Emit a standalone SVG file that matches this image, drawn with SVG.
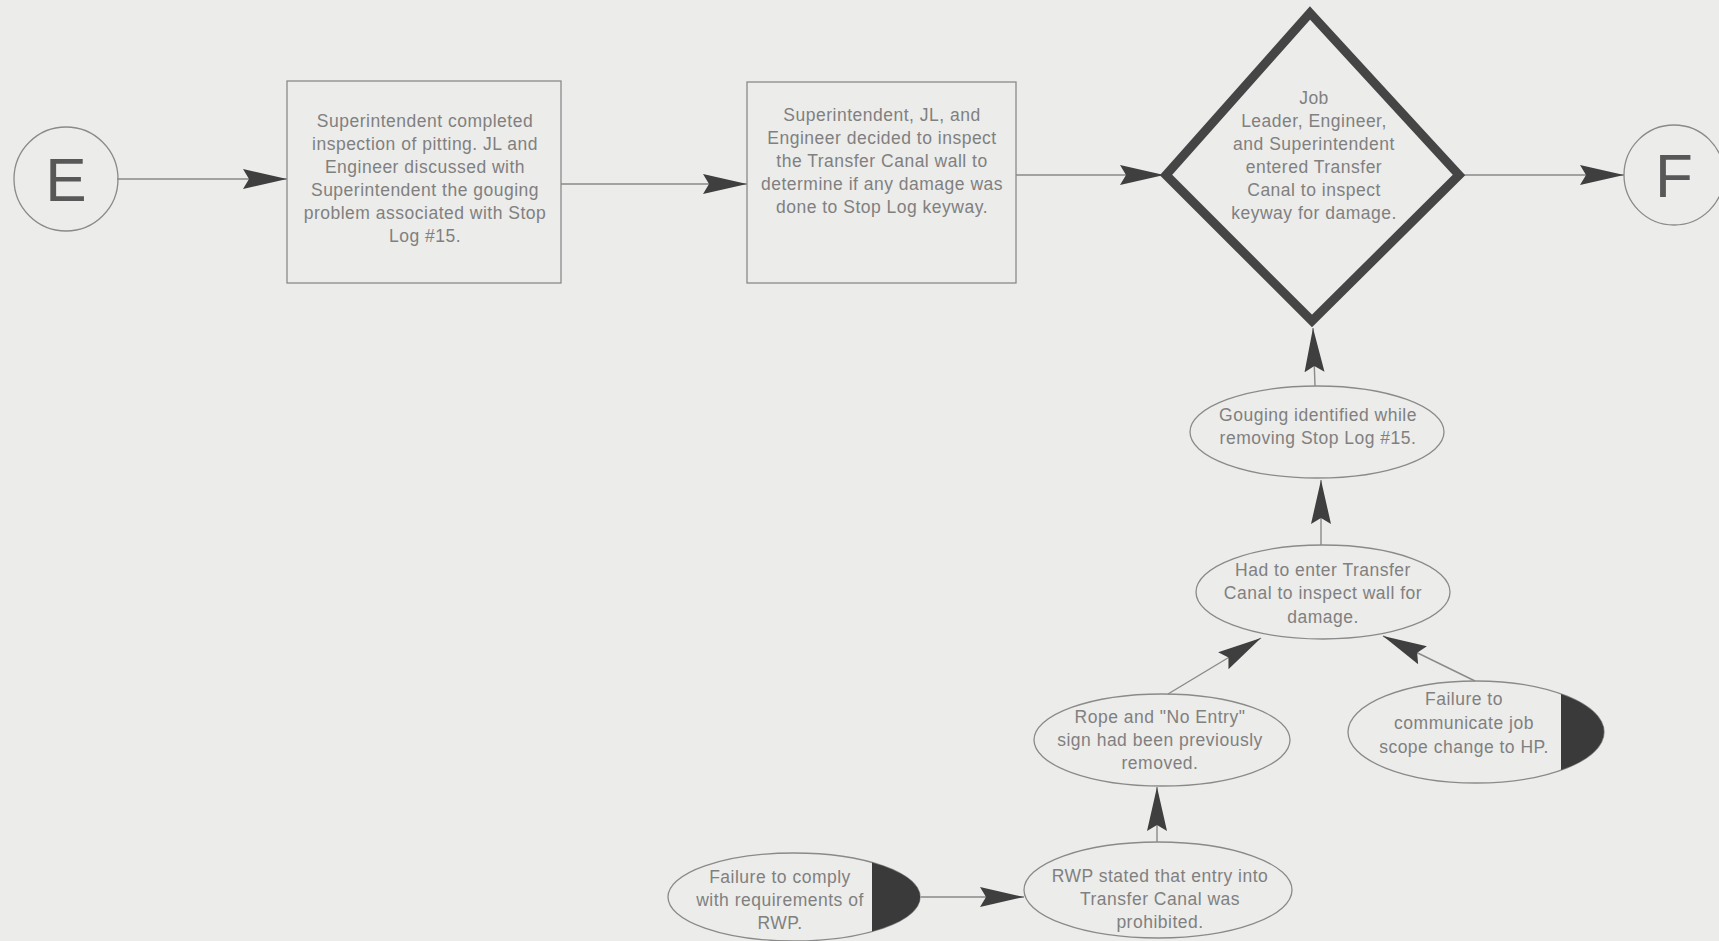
<svg xmlns="http://www.w3.org/2000/svg" width="1719" height="941" viewBox="0 0 1719 941">
<style>
.bg{fill:#ececea}
.box{fill:none;stroke:#8a8a8a;stroke-width:1.3}
.ell{fill:none;stroke:#8a8a8a;stroke-width:1.3}
.cap{fill:#3a3a3a}
.dia{fill:none;stroke:#454545;stroke-width:9;stroke-linejoin:miter}
.t{font-family:"Liberation Sans",Arial,sans-serif;font-size:17.5px;letter-spacing:0.5px;fill:#808080;text-anchor:middle}
.big{font-family:"Liberation Sans",Arial,sans-serif;font-size:62px;fill:#585858;text-anchor:middle}
.ln{stroke:#8a8a8a;stroke-width:1.4;fill:none;marker-end:url(#ah)}
</style>
<defs>
<marker id="ah" markerUnits="userSpaceOnUse" markerWidth="46" markerHeight="22" refX="44" refY="11" orient="auto">
<path d="M0,1 L44,11 L0,21 L6,11 Z" fill="#3f3f3f"/>
</marker>
</defs>
<rect class="bg" x="0" y="0" width="1719" height="941"/>
<g id="connectors">
<line class="ln" x1="117" y1="179" x2="287" y2="179"/>
<line class="ln" x1="561" y1="184" x2="747" y2="184"/>
<line class="ln" x1="1016" y1="175" x2="1164" y2="175"/>
<line class="ln" x1="1461" y1="175" x2="1624" y2="175"/>
<line class="ln" x1="1315" y1="386" x2="1313" y2="328"/>
<line class="ln" x1="1321" y1="545" x2="1321" y2="480"/>
<line class="ln" x1="1168" y1="694" x2="1261" y2="638"/>
<line class="ln" x1="1475" y1="681" x2="1383" y2="636"/>
<line class="ln" x1="1157" y1="842" x2="1157" y2="787"/>
<line class="ln" x1="921" y1="897" x2="1024" y2="897"/>
</g>
<g id="nodeE">
<circle class="ell" cx="66" cy="179" r="52"/>
<text class="big" x="66" y="201">E</text>
</g>
<g id="box1">
<rect class="box" x="287" y="81" width="274" height="202"/>
<text class="t" x="425" y="127">Superintendent completed</text>
<text class="t" x="425" y="150">inspection of pitting.  JL and</text>
<text class="t" x="425" y="173">Engineer discussed with</text>
<text class="t" x="425" y="196">Superintendent the gouging</text>
<text class="t" x="425" y="219">problem associated with Stop</text>
<text class="t" x="425" y="242">Log #15.</text>
</g>
<g id="box2">
<rect class="box" x="747" y="82" width="269" height="201"/>
<text class="t" x="882" y="121">Superintendent, JL, and</text>
<text class="t" x="882" y="144">Engineer decided to inspect</text>
<text class="t" x="882" y="167">the Transfer Canal wall to</text>
<text class="t" x="882" y="190">determine if any damage was</text>
<text class="t" x="882" y="213">done to Stop Log keyway.</text>
</g>
<g id="diamond">
<polygon class="dia" points="1310,13 1459,175 1312,321 1166,175"/>
<text class="t" x="1314" y="104">Job</text>
<text class="t" x="1314" y="127">Leader, Engineer,</text>
<text class="t" x="1314" y="150">and Superintendent</text>
<text class="t" x="1314" y="173">entered Transfer</text>
<text class="t" x="1314" y="196">Canal to inspect</text>
<text class="t" x="1314" y="219">keyway for damage.</text>
</g>
<g id="nodeF">
<circle class="ell" cx="1674" cy="175" r="50"/>
<text class="big" x="1674" y="197">F</text>
</g>
<g id="gouging">
<ellipse class="ell" cx="1317" cy="432" rx="127" ry="46"/>
<text class="t" x="1318" y="421">Gouging identified while</text>
<text class="t" x="1318" y="444">removing Stop Log #15.</text>
</g>
<g id="had">
<ellipse class="ell" cx="1323" cy="592" rx="127" ry="47"/>
<text class="t" x="1323" y="576">Had to enter Transfer</text>
<text class="t" x="1323" y="599">Canal to inspect wall for</text>
<text class="t" x="1323" y="623">damage.</text>
</g>
<g id="rope">
<ellipse class="ell" cx="1162" cy="740" rx="128" ry="46"/>
<text class="t" x="1160" y="723">Rope and "No Entry"</text>
<text class="t" x="1160" y="746">sign had been previously</text>
<text class="t" x="1160" y="769">removed.</text>
</g>
<g id="communicate">
<ellipse class="ell" cx="1476" cy="732" rx="128" ry="51"/>
<path class="cap" d="M1561,693.9 A128,51 0 0 1 1561,770.1 Z"/>
<text class="t" x="1464" y="705">Failure to</text>
<text class="t" x="1464" y="729">communicate job</text>
<text class="t" x="1464" y="753">scope change to HP.</text>
</g>
<g id="rwp">
<ellipse class="ell" cx="1158" cy="890" rx="134" ry="48"/>
<text class="t" x="1160" y="882">RWP stated that entry into</text>
<text class="t" x="1160" y="905">Transfer Canal was</text>
<text class="t" x="1160" y="928">prohibited.</text>
</g>
<g id="comply">
<ellipse class="ell" cx="794" cy="897" rx="126" ry="44"/>
<path class="cap" d="M872,862.4 A126,44 0 0 1 872,931.6 Z"/>
<text class="t" x="780" y="883">Failure to comply</text>
<text class="t" x="780" y="906">with requirements of</text>
<text class="t" x="780" y="929">RWP.</text>
</g>
</svg>
